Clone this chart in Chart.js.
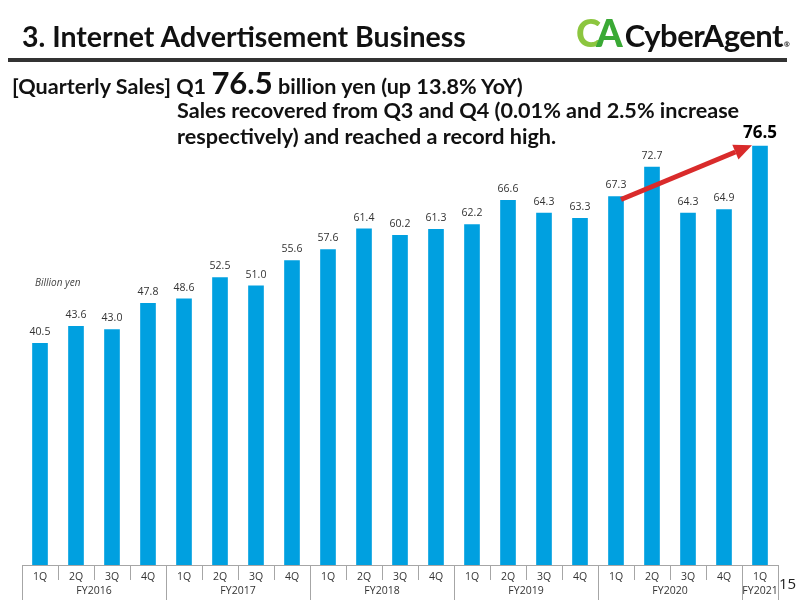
<!DOCTYPE html>
<html>
<head>
<meta charset="utf-8">
<script src="https://cdn.jsdelivr.net/npm/chart.js@4"></script>
<style>
  html, body { margin: 0; padding: 0; background: #fff; }
  #wrap { position: relative; width: 800px; height: 600px; overflow: hidden; font-family: Lato, "Noto Sans", sans-serif; }
  #chart { position: absolute; left: 0; top: 0; }
  .t { position: absolute; white-space: nowrap; color: #111; font-weight: bold; }
  #title { left: 22px; top: 19px; font-size: 28.5px; }
  #rule { position: absolute; left: 8px; top: 58px; width: 779px; height: 4px; background: #333; }
  #logo { left: 576px; top: 9px; font-size: 31px; }
  #logo .c { color: #8cc63f; font-size: 38px; font-weight: 900; letter-spacing: -5px; }
  #logo .a { color: #3aa935; font-size: 38px; font-weight: 900; letter-spacing: 2px; }
  #logo .n { color: #111; letter-spacing: -0.5px; }
  #logo .r { font-size: 7px; color: #222; margin-left: 1px; }
  #sub1 { left: 12px; top: 63px; font-size: 21.6px; }
  #sub1 .big { font-size: 31px; }
  #sub2 { left: 177px; top: 97px; font-size: 21.6px; line-height: 26px; }
  #unit { position: absolute; left: 35px; top: 275px; font: italic 10px "Open Sans", sans-serif; color: #444; }
  #page { position: absolute; left: 779px; top: 573px; font: 15px "Open Sans", sans-serif; color: #222; }
</style>
</head>
<body>
<div id="wrap">
  <canvas id="chart" width="800" height="600"></canvas>
  <div class="t" id="title">3. Internet Advertisement Business</div>
  <div id="rule"></div>
  <div class="t" id="logo"><span class="c">C</span><span class="a">A</span><span class="n">CyberAgent</span><span class="r">&#174;</span></div>
  <div class="t" id="sub1">[Quarterly Sales] Q1 <span class="big">76.5</span> billion yen (up 13.8% YoY)</div>
  <div class="t" id="sub2">Sales recovered from Q3 and Q4 (0.01% and 2.5% increase<br>respectively) and reached a record high.</div>
  <div id="unit">Billion yen</div>
  <div id="page">15</div>
</div>
<script>
const quarters = ["1Q","2Q","3Q","4Q","1Q","2Q","3Q","4Q","1Q","2Q","3Q","4Q","1Q","2Q","3Q","4Q","1Q","2Q","3Q","4Q","1Q"];
const fiscalYears = ["FY2016","FY2017","FY2018","FY2019","FY2020","FY2021"];
const quartersPerYear = [4, 4, 4, 4, 4, 1];
const sales = [40.5, 43.6, 43.0, 47.8, 48.6, 52.5, 51.0, 55.6, 57.6, 61.4, 60.2, 61.3, 62.2, 66.6, 64.3, 63.3, 67.3, 72.7, 64.3, 64.9, 76.5];

const axisGrey = "#a6a6a6";

// value labels, custom two-level category axis and the red arrow
const decorations = {
  id: "decorations",
  afterDatasetsDraw(chart) {
    const ctx = chart.ctx;
    const x = chart.scales.x, y = chart.scales.y;
    const area = chart.chartArea;
    const step = (area.right - area.left) / quarters.length;
    const base = area.bottom;

    ctx.save();
    // value labels
    ctx.textAlign = "center";
    ctx.textBaseline = "bottom";
    sales.forEach((v, i) => {
      const px = x.getPixelForValue(i);
      const py = y.getPixelForValue(v);
      if (i === sales.length - 1) {
        ctx.font = "bold 17px 'Open Sans', sans-serif";
        ctx.fillStyle = "#000";
        ctx.fillText(v.toFixed(1), px, py - 5);
      } else {
        ctx.font = "10.5px 'Open Sans', sans-serif";
        ctx.fillStyle = "#333";
        ctx.fillText(v.toFixed(1), px, py - 6);
      }
    });

    // axis line
    ctx.strokeStyle = axisGrey;
    ctx.lineWidth = 1;
    ctx.beginPath();
    ctx.moveTo(area.left, base + 0.5);
    ctx.lineTo(area.right, base + 0.5);
    ctx.stroke();

    // quarter separators and labels
    ctx.font = "10.5px 'Open Sans', sans-serif";
    ctx.fillStyle = "#333";
    ctx.textBaseline = "middle";
    for (let i = 0; i <= quarters.length; i++) {
      const sx = Math.round(area.left + i * step) + 0.5;
      ctx.beginPath();
      ctx.moveTo(sx, base);
      ctx.lineTo(sx, base + 15);
      ctx.stroke();
    }
    quarters.forEach((q, i) => ctx.fillText(q, x.getPixelForValue(i), base + 12));

    // fiscal year separators and labels
    let start = 0;
    fiscalYears.forEach((fy, k) => {
      const n = quartersPerYear[k];
      const x0 = area.left + start * step;
      const x1 = area.left + (start + n) * step;
      ctx.fillText(fy, (x0 + x1) / 2, base + 26);
      start += n;
    });
    start = 0;
    for (let k = 0; k <= fiscalYears.length; k++) {
      const sx = Math.round(area.left + start * step) + 0.5;
      ctx.beginPath();
      ctx.moveTo(sx, base);
      ctx.lineTo(sx, base + 35);
      ctx.stroke();
      if (k < fiscalYears.length) start += quartersPerYear[k];
    }

    // arrow from FY2020 1Q to FY2021 1Q
    const ax0 = x.getPixelForValue(16) + 5;
    const ay0 = y.getPixelForValue(sales[16]) + 3;
    const ax1 = x.getPixelForValue(20) - 8;
    const ay1 = y.getPixelForValue(sales[20]) - 1;
    const ang = Math.atan2(ay1 - ay0, ax1 - ax0);
    const head = 18;
    const bx = ax1 - head * Math.cos(ang), by = ay1 - head * Math.sin(ang);
    ctx.strokeStyle = "#d92b2b";
    ctx.fillStyle = "#d92b2b";
    ctx.lineWidth = 5;
    ctx.beginPath();
    ctx.moveTo(ax0, ay0);
    ctx.lineTo(bx, by);
    ctx.stroke();
    ctx.beginPath();
    ctx.moveTo(ax1, ay1);
    ctx.lineTo(bx + 8 * Math.sin(ang), by - 8 * Math.cos(ang));
    ctx.lineTo(bx - 8 * Math.sin(ang), by + 8 * Math.cos(ang));
    ctx.closePath();
    ctx.fill();
    ctx.restore();
  }
};

new Chart(document.getElementById("chart"), {
  type: "bar",
  data: {
    labels: quarters.map((q, i) => i),
    datasets: [{
      data: sales,
      backgroundColor: "#00a0e0",
      barThickness: 15
    }]
  },
  options: {
    responsive: false,
    animation: false,
    layout: { padding: { left: 22, right: 22, top: 127, bottom: 35 } },
    plugins: { legend: { display: false }, tooltip: { enabled: false } },
    scales: {
      x: { display: false },
      y: { display: false, min: 0, max: 80 }
    }
  },
  plugins: [decorations]
});
</script>
</body>
</html>
